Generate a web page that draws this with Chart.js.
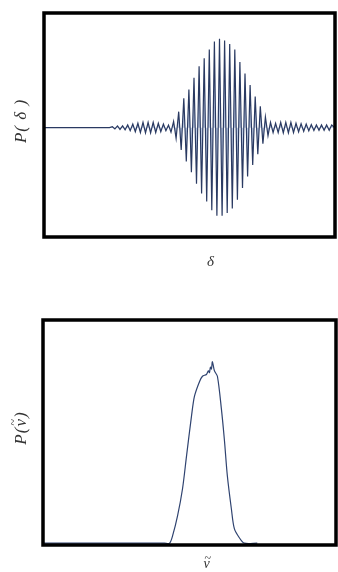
<!DOCTYPE html>
<html>
<head>
<meta charset="utf-8">
<script src="https://cdn.jsdelivr.net/npm/chart.js@4.4.1/dist/chart.umd.min.js"></script>
<style>
  body { margin: 0; background: #fff; width: 338px; height: 572px; position: relative; overflow: hidden; }
  canvas { position: absolute; left: 0; }
  .lbl { position: absolute; font-family: "Liberation Serif", "DejaVu Serif", serif; font-style: italic; font-size: 17px; color: #333; white-space: nowrap; transform: translate(-50%, -50%); letter-spacing: 1px; }
  .rot { transform: translate(-50%, -50%) rotate(-90deg); }
  .nu { position: relative; display: inline-block; }
  .nu .til { position: absolute; left: 1px; top: -5px; font-style: normal; font-size: 12px; }
</style>
</head>
<body>
<canvas id="graficoInterferograma" width="338" height="290" style="top:0"></canvas>
<canvas id="graficoEspectro" width="338" height="282" style="top:290px"></canvas>
<div class="lbl rot" style="left:21px; top:121px">P( δ )</div>
<div class="lbl" style="left:211px; top:261px; font-size:15px">δ</div>
<div class="lbl rot" style="left:21px; top:428px">P(<span class="nu">ν<span class="til">~</span></span>)</div>
<div class="lbl" style="left:207px; top:564px; font-size:14px"><span class="nu">ν<span class="til">~</span></span></div>
<script>
// interferograma: retardo (unidades arbitrarias) y señal
const delta = [-175.5, -110,
  -107.1, -104.6, -102.0, -99.5, -96.9, -94.4, -91.8, -89.3, -86.7, -84.2, -81.6, -79.1,
  -76.5, -74.0, -71.4, -68.9, -66.3, -63.8, -61.2, -58.7, -56.1, -53.6, -51.0, -48.5,
  -45.9, -43.4, -40.8, -38.3, -35.7, -33.2, -30.6, -28.1, -25.5, -23.0, -20.4, -17.9,
  -15.3, -12.8, -10.2, -7.7, -5.1, -2.6, 0,
  2.6, 5.1, 7.7, 10.2, 12.8, 15.3, 17.9, 20.4, 23.0, 25.5, 28.1, 30.6, 33.2, 35.7, 38.3,
  40.8, 43.4, 45.9, 48.5, 51.0, 53.6, 56.1, 58.7, 61.2, 63.8, 66.3, 68.9, 71.4, 74.0,
  76.5, 79.1, 81.6, 84.2, 86.7, 89.3, 91.8, 94.4, 96.9, 99.5, 102.0, 104.6, 107.1, 109.7,
  112.2, 115.5];
const senal = [0, 0,
  0.01, -0.015, 0.02, -0.02, 0.02, -0.025, 0.03, -0.035, 0.04, -0.045, 0.05, -0.055,
  0.06, -0.06, 0.06, -0.06, 0.06, -0.055, 0.05, -0.045, 0.04, -0.035, 0.03, -0.05,
  0.07, -0.12, 0.18, -0.25, 0.33, -0.38, 0.43, -0.5, 0.56, -0.63, 0.69, -0.74,
  0.78, -0.83, 0.88, -0.93, 0.97, -0.99, 1.0,
  -0.99, 0.98, -0.96, 0.94, -0.91, 0.88, -0.81, 0.74, -0.68, 0.61, -0.55, 0.48, -0.42, 0.35, -0.3,
  0.24, -0.18, 0.12, -0.09, 0.06, -0.055, 0.05, -0.055, 0.06, -0.06, 0.06, -0.06, 0.06, -0.055,
  0.05, -0.047, 0.045, -0.042, 0.04, -0.037, 0.035, -0.032, 0.03, -0.03, 0.03, -0.03, 0.03, -0.03,
  0.03, 0];

// espectro: número de onda y intensidad
const numOnda = [0, 122, 127, 130, 135, 140, 144, 149, 152, 157, 160, 164, 166, 167, 168, 169, 170,
  172, 175, 179, 182, 185, 189, 192, 197, 202, 215];
const intensidad = [0, 0, 0.0, 0.04, 0.15, 0.30, 0.48, 0.70, 0.81, 0.89, 0.92, 0.93, 0.95, 0.94, 0.97, 0.96, 1.0,
  0.95, 0.92, 0.74, 0.57, 0.37, 0.19, 0.08, 0.03, 0.0, 0];

const marco = {
  id: 'marco',
  afterDraw(chart) {
    const { ctx, chartArea: a } = chart;
    ctx.save();
    ctx.strokeStyle = '#000';
    ctx.lineWidth = 3.5;
    ctx.strokeRect(a.left, a.top, a.right - a.left, a.bottom - a.top);
    ctx.restore();
  }
};

const puntos = (xs, ys) => xs.map((x, i) => ({ x: x, y: ys[i] }));

new Chart(document.getElementById('graficoInterferograma').getContext('2d'), {
  type: 'line',
  data: {
    datasets: [{
      data: puntos(delta, senal),
      borderColor: '#2a3a62',
      borderWidth: 1.2,
      backgroundColor: 'rgba(140, 165, 210, 0.6)',
      fill: 'origin',
      pointRadius: 0,
      tension: 0
    }]
  },
  options: {
    responsive: false,
    animation: false,
    layout: { padding: { left: 44, top: 13, right: 3, bottom: 53 } },
    plugins: { legend: { display: false }, tooltip: { enabled: false } },
    scales: {
      x: { type: 'linear', display: false, min: -175.5, max: 115.5 },
      y: { display: false, min: -1.23, max: 1.29 }
    }
  },
  plugins: [marco]
});

new Chart(document.getElementById('graficoEspectro').getContext('2d'), {
  type: 'line',
  data: {
    datasets: [{
      data: puntos(numOnda, intensidad),
      borderColor: '#2f4370',
      borderWidth: 1.2,
      fill: false,
      pointRadius: 0,
      tension: 0.3
    }]
  },
  options: {
    responsive: false,
    animation: false,
    layout: { padding: { left: 43, top: 30, right: 2, bottom: 27 } },
    plugins: { legend: { display: false }, tooltip: { enabled: false } },
    scales: {
      x: { type: 'linear', display: false, min: 0, max: 294 },
      y: { display: false, min: -0.01, max: 1.23 }
    }
  },
  plugins: [marco]
});
</script>
</body>
</html>
